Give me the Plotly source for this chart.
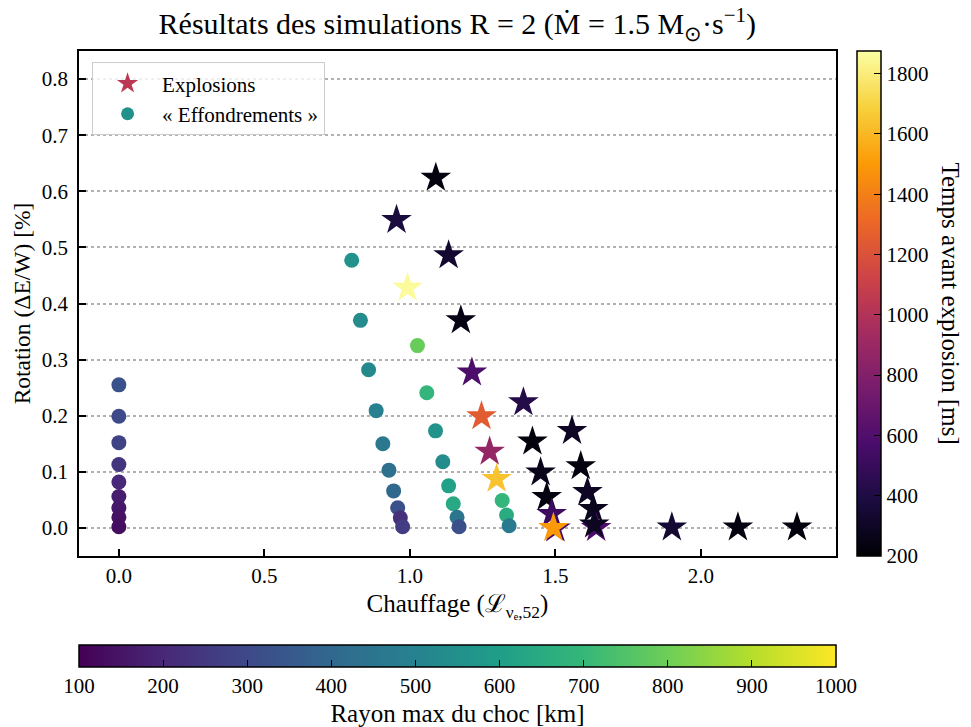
import plotly.graph_objects as go

# --- Collapse simulations (circles, coloured by max shock radius [km]) ---
col_x = [0.0, 0.0, 0.0, 0.0, 0.0, 0.0, 0.0, 0.0, 0.0,
         0.800, 0.830, 0.858, 0.884, 0.907, 0.928, 0.944, 0.958, 0.967, 0.975,
         1.026, 1.058, 1.088, 1.113, 1.133, 1.149, 1.162, 1.169,
         1.317, 1.332, 1.341]
col_y = [0.255, 0.199, 0.152, 0.113, 0.082, 0.056, 0.036, 0.019, 0.002,
         0.477, 0.370, 0.282, 0.209, 0.150, 0.103, 0.066, 0.036, 0.018, 0.002,
         0.325, 0.241, 0.173, 0.118, 0.075, 0.043, 0.019, 0.002,
         0.049, 0.023, 0.004]
col_r = [330, 300, 280, 240, 200, 175, 160, 145, 130,
         560, 535, 520, 495, 465, 430, 400, 320, 220, 260,
         790, 690, 560, 535, 610, 640, 450, 320,
         690, 655, 470]

# --- Explosions (stars, coloured by time before explosion [ms]) ---
exp_x = [1.089, 0.954, 1.133, 0.992, 1.175, 1.213, 1.246, 1.274, 1.298,
         1.390, 1.421, 1.449, 1.470, 1.487, 1.500, 1.493,
         1.557, 1.587, 1.610, 1.630, 1.640, 1.633,
         1.900, 2.127, 2.330]
exp_y = [0.624, 0.549, 0.486, 0.428, 0.370, 0.277, 0.199, 0.136, 0.0875,
         0.224, 0.154, 0.099, 0.055, 0.025, -0.001, 0.0,
         0.173, 0.110, 0.064, 0.034, 0.0, 0.006,
         0.001, 0.001, 0.001]
exp_t = [240, 380, 330, 1860, 250, 580, 1250, 880, 1640,
         420, 220, 270, 240, 520, 560, 1500,
         300, 230, 300, 280, 580, 290,
         340, 230, 220]

r_ticks = [100, 200, 300, 400, 500, 600, 700, 800, 900, 1000]
t_ticks = [200, 400, 600, 800, 1000, 1200, 1400, 1600, 1800]
x_ticks = [0.0, 0.5, 1.0, 1.5, 2.0]
y_ticks = [0.0, 0.1, 0.2, 0.3, 0.4, 0.5, 0.6, 0.7, 0.8]

FONT = "Liberation Serif"
TICK = 21
LAB = 25

cb_r = dict(orientation="h", x=0.5, xanchor="center",
            y=-0.176, yanchor="top", len=1.0, lenmode="fraction",
            thickness=22, xpad=0, ypad=0,
            outlinewidth=1.5, outlinecolor="black",
            ticks="inside", ticklen=7, tickwidth=1.2, tickcolor="black",
            tickvals=r_ticks,
            tickfont=dict(family=FONT, size=TICK, color="black"),
            title=dict(text="Rayon max du choc [km]", side="bottom",
                       font=dict(family=FONT, size=LAB, color="black")))

cb_t = dict(orientation="v", x=1.0277, xanchor="left",
            y=0.5, yanchor="middle", len=1.0, lenmode="fraction",
            thickness=24, xpad=0, ypad=0,
            outlinewidth=1.5, outlinecolor="black",
            ticks="inside", ticklen=7, tickwidth=1.2, tickcolor="black",
            tickvals=t_ticks,
            tickfont=dict(family=FONT, size=TICK, color="black"),
            title=dict(text=""))

fig = go.Figure()

fig.add_trace(go.Scatter(
    x=col_x, y=col_y, mode="markers", showlegend=False,
    marker=dict(symbol="circle", size=15, color=col_r, colorscale="Viridis",
                cmin=100, cmax=1000, line=dict(width=0), colorbar=cb_r)))

fig.add_trace(go.Scatter(
    x=exp_x, y=exp_y, mode="markers", showlegend=False,
    marker=dict(symbol="star", size=23, color=exp_t, colorscale="Inferno",
                cmin=200, cmax=1875, line=dict(width=0), colorbar=cb_t)))

# legend proxies
fig.add_trace(go.Scatter(x=[None], y=[None], mode="markers", name="Explosions",
                         marker=dict(symbol="star", size=16, color="#bc3754")))
fig.add_trace(go.Scatter(x=[None], y=[None], mode="markers", name="« Effondrements »",
                         marker=dict(symbol="circle", size=13, color="#21918c")))

fig.add_annotation(text="Temps avant explosion [ms]", xref="paper", yref="paper",
                   x=1.1506, y=0.5, xanchor="center", yanchor="middle", textangle=90,
                   showarrow=False, font=dict(family=FONT, size=LAB, color="black"))

fig.update_layout(
    width=971, height=727,
    margin=dict(l=79, r=135, t=51, b=171, autoexpand=False),
    paper_bgcolor="white", plot_bgcolor="white",
    font=dict(family=FONT, size=TICK, color="black"),
    title=dict(text="Résultats des simulations R = 2 (Ṁ = 1.5 M<sub>⊙</sub>·s<sup>−1</sup>)",
               x=0.471, xanchor="center", y=0.967, yanchor="middle",
               font=dict(family=FONT, size=30, color="black")),
    legend=dict(x=0.017, y=0.978, xanchor="left", yanchor="top",
                bgcolor="rgba(255,255,255,0.8)", bordercolor="#cccccc", borderwidth=1.2,
                font=dict(family=FONT, size=21, color="black"), itemwidth=59),
    xaxis=dict(range=[-0.137, 2.464], tickvals=x_ticks,
               ticktext=["%.1f" % v for v in x_ticks],
               showgrid=False, zeroline=False, showline=True, linewidth=1.5,
               linecolor="black", mirror=True, ticks="inside", ticklen=7, tickwidth=1.5,
               tickcolor="black", tickfont=dict(family=FONT, size=TICK),
               ticklabelstandoff=0,
               title=dict(text="Chauffage (ℒ<sub>νₑ,52</sub>)", standoff=8,
                          font=dict(family=FONT, size=LAB))),
    yaxis=dict(range=[-0.05, 0.85], tickvals=y_ticks,
               ticktext=["%.1f" % v for v in y_ticks],
               showgrid=True, gridcolor="#b0b0b0", gridwidth=1.5, griddash="dot",
               zeroline=False, showline=True, linewidth=1.5,
               linecolor="black", mirror=True, ticks="inside", ticklen=7, tickwidth=1.5,
               tickcolor="black", tickfont=dict(family=FONT, size=TICK),
               ticklabelstandoff=5,
               title=dict(text="Rotation (ΔE/W) [%]", standoff=5,
                          font=dict(family=FONT, size=23.5))),
)

fig.write_html("out.html", config={"displayModeBar": False},
               post_script="document.body.style.margin='0';document.body.style.overflow='hidden';")
